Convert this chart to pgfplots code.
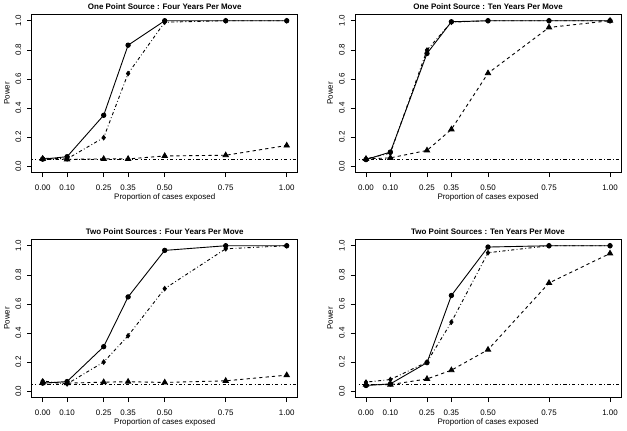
\documentclass[border=0pt]{standalone}
\usepackage{fontspec}
\setmainfont{Liberation Sans}
\usepackage{pgfplots}
\pgfplotsset{compat=1.18}
\tikzset{
  rdash/.style={dash pattern=on 3.2pt off 3.2pt},
  rdotdash/.style={dash pattern=on 0.8pt off 2.4pt on 3.2pt off 2.4pt},
}
\pgfplotsset{rstyle/.style={
  width=266bp, height=158.5bp, scale only axis,
  xmin=-0.045, xmax=1.045, ymin=-0.045, ymax=1.045,
  axis line style={line width=0.8pt},
  tick align=outside, tick pos=left,
  major tick length=4.5bp,
  tick style={line width=0.6pt, black},
  xtick={0,0.1,0.25,0.35,0.5,0.75,1},
  xticklabels={0.00,0.10,0.25,0.35,0.50,0.75,1.00},
  ytick={0,0.2,0.4,0.6,0.8,1},
  yticklabels={0.0,0.2,0.4,0.6,0.8,1.0},
  /pgf/number format/assume math mode=true,
  ticklabel style={font=\fontsize{8}{9.6}\selectfont},
  xticklabel style={anchor=base, yshift=-13.4bp},
  yticklabel style={rotate=90, anchor=base, yshift=6bp},
  xlabel={Proportion of cases exposed},
  ylabel={Power},
  every axis x label/.style={at={(axis description cs:0.5,0)}, anchor=base, yshift=-27.3bp, font=\fontsize{8}{9.6}\selectfont},
  every axis y label/.style={at={(axis description cs:0,0.5)}, rotate=90, anchor=base, yshift=22.1bp, font=\fontsize{8}{9.6}\selectfont},
  every axis title/.style={at={(axis description cs:0.5,1)}, anchor=base, yshift=4.7bp, font=\bfseries\fontsize{8}{9.6}\selectfont},
  every axis plot/.append style={black, line width=0.9pt},
  scircle/.style={solid, mark=*, mark size=2.2bp, mark options={solid}},
  sdiam/.style={rdotdash, mark=diamond*, mark size=2.2bp, mark options={solid}},
  stri/.style={rdash, mark=triangle*, mark size=3bp, mark options={solid}},
  sref/.style={rdotdash, line width=0.6pt, no marks},
}}
\begin{document}
\begin{tikzpicture}
\path[use as bounding box] (0,0) rectangle (627bp,431bp);
% Panel 1
\begin{axis}[rstyle, at={(31.7bp,258.3bp)}, anchor=south west,
  title={One Point Source : Four Years Per Move}]
\addplot[sref] coordinates {(-1,0.05) (2,0.05)};
\addplot[sdiam] coordinates {(0,0.055) (0.1,0.05) (0.25,0.196) (0.35,0.637) (0.5,0.99) (0.75,1.0) (1,1.0)};
\addplot[stri] coordinates {(0,0.05) (0.1,0.047) (0.25,0.05) (0.35,0.05) (0.5,0.07) (0.75,0.075) (1,0.142)};
\addplot[scircle] coordinates {(0,0.048) (0.1,0.065) (0.25,0.35) (0.35,0.832) (0.5,1.0) (0.75,1.0) (1,1.0)};
\end{axis}
% Panel 2
\begin{axis}[rstyle, at={(355bp,258.3bp)}, anchor=south west,
  title={One Point Source : Ten Years Per Move}]
\addplot[sref] coordinates {(-1,0.05) (2,0.05)};
\addplot[sdiam] coordinates {(0,0.05) (0.1,0.09) (0.25,0.798) (0.35,0.99) (0.5,1.0) (0.75,1.0) (1,1.0)};
\addplot[stri] coordinates {(0,0.05) (0.1,0.057) (0.25,0.108) (0.35,0.253) (0.5,0.639) (0.75,0.954) (1,1.0)};
\addplot[scircle] coordinates {(0,0.045) (0.1,0.097) (0.25,0.775) (0.35,0.993) (0.5,1.0) (0.75,1.0) (1,1.0)};
\end{axis}
% Panel 3
\begin{axis}[rstyle, at={(31.7bp,33.3bp)}, anchor=south west,
  title={Two Point Sources : Four Years Per Move}]
\addplot[sref] coordinates {(-1,0.05) (2,0.05)};
\addplot[sdiam] coordinates {(0,0.07) (0.1,0.05) (0.25,0.2) (0.35,0.381) (0.5,0.705) (0.75,0.979) (1,1.0)};
\addplot[stri] coordinates {(0,0.06) (0.1,0.055) (0.25,0.062) (0.35,0.065) (0.5,0.06) (0.75,0.071) (1,0.11)};
\addplot[scircle] coordinates {(0,0.055) (0.1,0.066) (0.25,0.306) (0.35,0.648) (0.5,0.968) (0.75,1.0) (1,1.0)};
\end{axis}
% Panel 4
\begin{axis}[rstyle, at={(355bp,33.3bp)}, anchor=south west,
  title={Two Point Sources : Ten Years Per Move}]
\addplot[sref] coordinates {(-1,0.05) (2,0.05)};
\addplot[sdiam] coordinates {(0,0.062) (0.1,0.08) (0.25,0.2) (0.35,0.475) (0.5,0.952) (0.75,1.0) (1,1.0)};
\addplot[stri] coordinates {(0,0.045) (0.1,0.045) (0.25,0.084) (0.35,0.144) (0.5,0.285) (0.75,0.744) (1,0.947)};
\addplot[scircle] coordinates {(0,0.039) (0.1,0.05) (0.25,0.196) (0.35,0.658) (0.5,0.991) (0.75,1.0) (1,1.0)};
\end{axis}
\end{tikzpicture}
\end{document}
